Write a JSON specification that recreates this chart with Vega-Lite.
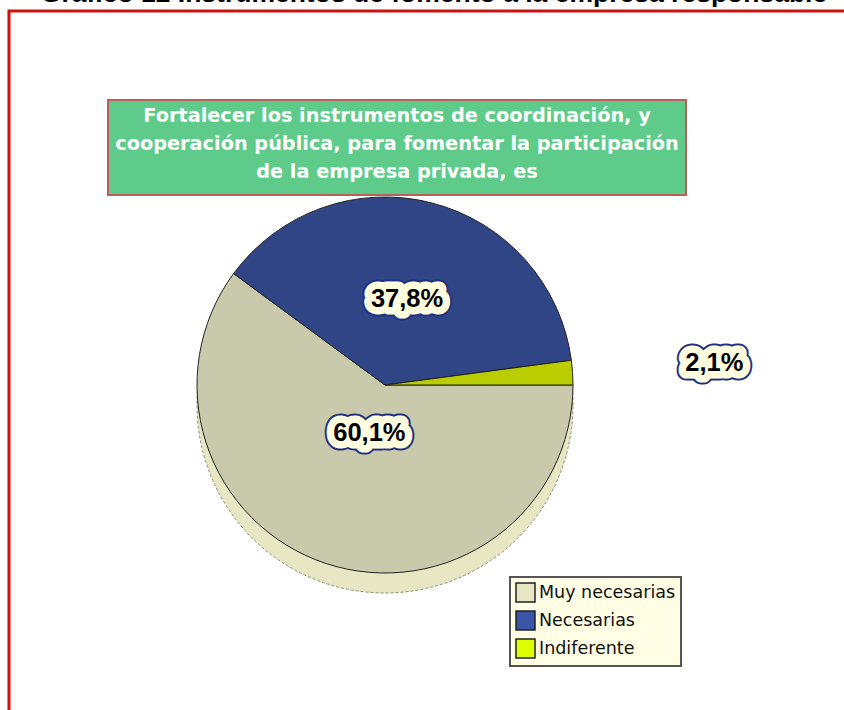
{
  "$schema": "https://vega.github.io/schema/vega-lite/v6.json",
  "width": 850,
  "height": 720,
  "autosize": {"type": "none"},
  "padding": {"left": 9, "top": 11, "right": 0, "bottom": 0},
  "background": "white",
  "view": {"stroke": "#cc1111", "strokeWidth": 3},
  "title": {
    "text": "Gráfico 12 Instrumentos de fomento a la empresa responsable",
    "font": "Liberation Sans",
    "fontSize": 26.5,
    "fontWeight": "bold",
    "color": "#000000",
    "anchor": "middle",
    "baseline": "alphabetic",
    "offset": 0,
    "dy": 17
  },
  "data": {
    "values": [
      {"categoria": "Muy necesarias", "porcentaje": 60.1, "etiqueta": "60,1%", "orden": 1},
      {"categoria": "Necesarias", "porcentaje": 37.8, "etiqueta": "37,8%", "orden": 2},
      {"categoria": "Indiferente", "porcentaje": 2.1, "etiqueta": "2,1%", "orden": 3}
    ]
  },
  "encoding": {
    "theta": {"field": "porcentaje", "type": "quantitative", "stack": true, "scale": {"range": [1.5708, 7.854]}},
    "order": {"field": "orden", "type": "quantitative"}
  },
  "layer": [
    {
      "mark": {"type": "arc", "outerRadius": 188, "xOffset": -49, "yOffset": 34, "stroke": "#8a8a70", "strokeWidth": 1, "strokeDash": [3, 2]},
      "encoding": {
        "color": {
          "field": "categoria",
          "type": "nominal",
          "scale": {"domain": ["Muy necesarias", "Necesarias", "Indiferente"], "range": ["#e8e7c4", "#3a55a5", "#ddff00"]},
          "legend": {
            "title": null,
            "orient": "none",
            "legendX": 501,
            "legendY": 566,
            "fillColor": "#fffde4",
            "strokeColor": "#555555",
            "padding": 5,
            "symbolType": "square",
            "symbolSize": 361,
            "symbolStrokeColor": "#222222",
            "symbolStrokeWidth": 1.5,
            "labelFont": "DejaVu Sans",
            "labelFontSize": 17.5,
            "labelColor": "#111111",
            "labelOffset": 3,
            "rowPadding": 3
          }
        }
      }
    },
    {
      "mark": {"type": "arc", "outerRadius": 188, "xOffset": -49, "yOffset": 14, "strokeWidth": 1},
      "encoding": {
        "color": {
          "field": "categoria",
          "type": "nominal",
          "scale": {"domain": ["Muy necesarias", "Necesarias", "Indiferente"], "range": ["#c9c9ab", "#2f4586", "#b9cd00"]},
          "legend": null
        },
        "stroke": {
          "datum": "cabecera",
          "type": "nominal",
          "scale": {"range": ["#222222"]},
          "legend": {
            "title": ["Fortalecer los instrumentos de coordinación, y", "cooperación pública, para fomentar la participación", "de la empresa privada, es"],
            "orient": "none",
            "legendX": 99,
            "legendY": 89,
            "fillColor": "#5ecb8a",
            "strokeColor": "#b8605a",
            "padding": 7,
            "titleColor": "#ffffff",
            "titleFont": "DejaVu Sans",
            "titleFontSize": 19.3,
            "titleFontWeight": "bold",
            "titleAlign": "center",
            "titleAnchor": "middle",
            "titleLimit": 1000,
            "titleLineHeight": 28,
            "titlePadding": 0,
            "labelFontSize": 0,
            "labelOpacity": 0,
            "symbolSize": 0,
            "symbolOpacity": 0,
            "symbolStrokeWidth": 0
          }
        }
      }
    },
    {
      "mark": {"type": "text", "xOffset": -49, "yOffset": 14, "font": "Liberation Sans", "fontSize": 25.5, "fontWeight": "bold", "fill": "#1f3080", "stroke": "#1f3080", "strokeWidth": 19, "strokeJoin": "round", "align": "center", "baseline": "middle"},
      "encoding": {
        "text": {"field": "etiqueta", "type": "nominal"},
        "radius": {"field": "porcentaje", "type": "quantitative", "scale": {"type": "log", "domain": [2.1, 60.1], "range": [330, 50]}}
      }
    },
    {
      "mark": {"type": "text", "xOffset": -49, "yOffset": 14, "font": "Liberation Sans", "fontSize": 25.5, "fontWeight": "bold", "fill": "#ffffe0", "stroke": "#ffffe0", "strokeWidth": 15, "strokeJoin": "round", "align": "center", "baseline": "middle"},
      "encoding": {
        "text": {"field": "etiqueta", "type": "nominal"},
        "radius": {"field": "porcentaje", "type": "quantitative", "scale": {"type": "log", "domain": [2.1, 60.1], "range": [330, 50]}}
      }
    },
    {
      "mark": {"type": "text", "xOffset": -49, "yOffset": 14, "font": "Liberation Sans", "fontSize": 25.5, "fontWeight": "bold", "fill": "#000000", "align": "center", "baseline": "middle"},
      "encoding": {
        "text": {"field": "etiqueta", "type": "nominal"},
        "radius": {"field": "porcentaje", "type": "quantitative", "scale": {"type": "log", "domain": [2.1, 60.1], "range": [330, 50]}}
      }
    }
  ],
  "resolve": {"scale": {"color": "independent"}},
  "config": {"view": {"stroke": "#cc1111", "strokeWidth": 3}, "legend": {"strokeWidth": 2}}
}
